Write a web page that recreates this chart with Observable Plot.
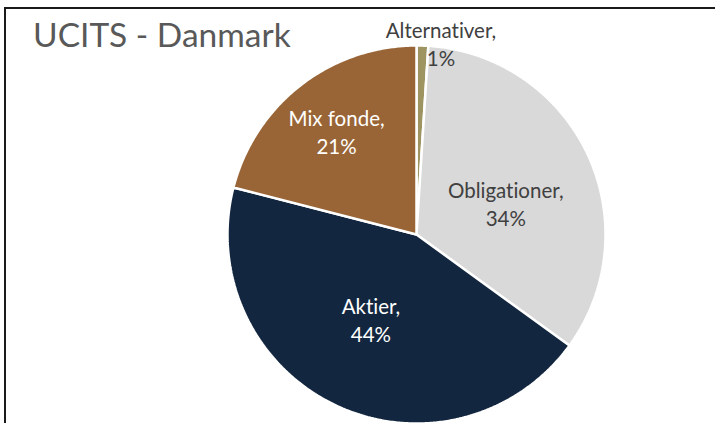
<!DOCTYPE html>
<html>
<head>
<meta charset="utf-8">
<script src="https://cdn.jsdelivr.net/npm/d3@7"></script>
<script src="https://cdn.jsdelivr.net/npm/@observablehq/plot@0.6"></script>
<style>
  html, body { margin: 0; padding: 0; background: #fff; }
  #wrap { position: relative; width: 715px; height: 423px; overflow: hidden; }
  #frame { position: absolute; left: 4px; top: 7px; width: 720px; height: 430px;
           border-top: 2px solid #1a1a1a; border-left: 2px solid #1a1a1a; box-sizing: border-box; }
  #title { position: absolute; left: 33px; top: 14px; font-family: Lato, sans-serif;
           font-size: 33.5px; font-weight: 400; color: #595959; white-space: nowrap;
           font-variant-ligatures: none; font-feature-settings: "liga" 0; }
  #chart { position: absolute; left: 0; top: 0; }
  svg text { font-variant-ligatures: none; font-feature-settings: "liga" 0, "clig" 0; }
</style>
</head>
<body>
<div id="wrap">
  <div id="frame"></div>
  <div id="chart"></div>
  <div id="title">UCITS - Danmark</div>
</div>
<script>
// ---- data ----
const categories = ["Alternativer", "Obligationer", "Aktier", "Mix fonde"];
const shares = [1, 34, 44, 21];
const shareLabels = ["1%", "34%", "44%", "21%"];

// ---- style / layout ----
const colors = ["#9E9461", "#D9D9D9", "#12263F", "#996536"];
const textColors = ["#404040", "#404040", "#ffffff", "#ffffff"];
const labelRadius = [1.02, 0.5, 0.51, 0.69];
const labelShiftDeg = [5.5, 6, 3, 0];

const pie = d3.pie().sort(null).startAngle(0).endAngle(2 * Math.PI)(shares);

const pts = [];
pie.forEach((s, i) => {
  const name = categories[i];
  pts.push({name, x: 0, y: 0});
  const steps = Math.max(2, Math.ceil((s.endAngle - s.startAngle) / (Math.PI / 360)));
  for (let k = 0; k <= steps; k++) {
    const a = s.startAngle + (s.endAngle - s.startAngle) * k / steps;
    pts.push({name, x: Math.sin(a), y: Math.cos(a)});
  }
  pts.push({name, x: 0, y: 0});
});

const labels = pie.map((s, i) => {
  const a = (s.startAngle + s.endAngle) / 2 + labelShiftDeg[i] * Math.PI / 180;
  const r = labelRadius[i];
  return {name: categories[i], text: categories[i] + ",\n" + shareLabels[i],
          x: r * Math.sin(a), y: r * Math.cos(a), color: textColors[i]};
});

const chart = Plot.plot({
  width: 715,
  height: 423,
  margin: 0,
  x: {domain: [-1, 1], range: [227, 605], axis: null},
  y: {domain: [-1, 1], range: [423, 45], axis: null},
  color: {domain: categories, range: colors},
  style: {background: "transparent"},
  marks: [
    Plot.line(pts, {x: "x", y: "y", z: "name", fill: "name", stroke: "white", strokeWidth: 2.5, curve: "linear", strokeLinejoin: "miter"}),
    Plot.text(labels, {x: "x", y: "y", text: "text", fill: "color", fontSize: 20.5, lineHeight: 1.36, fontFamily: "Lato, sans-serif"})
  ]
});
document.getElementById("chart").appendChild(chart);
</script>
</body>
</html>
